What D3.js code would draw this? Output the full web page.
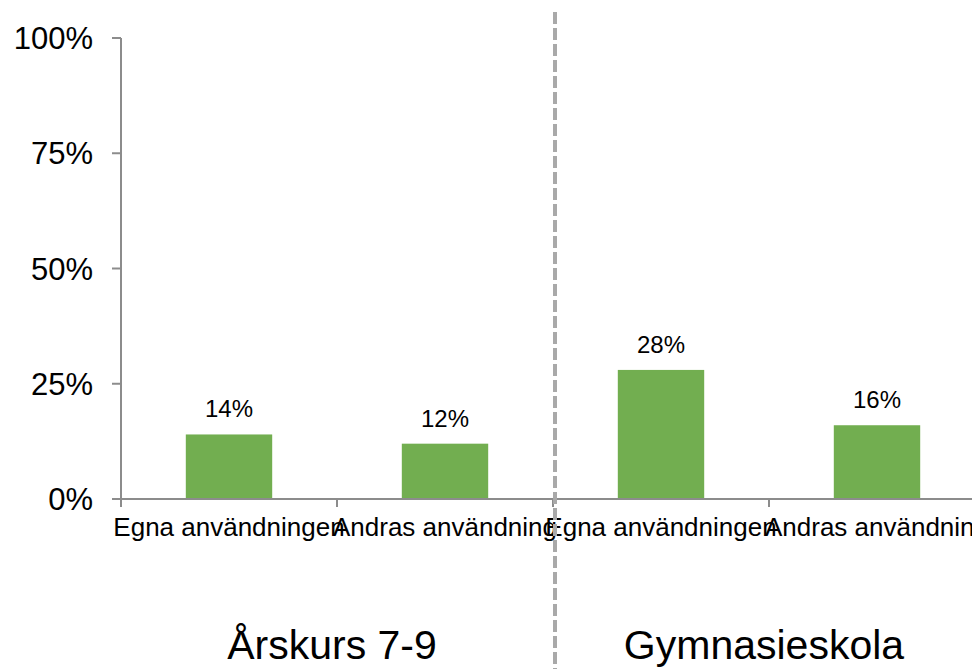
<!DOCTYPE html>
<html>
<head>
<meta charset="utf-8">
<script src="https://cdn.jsdelivr.net/npm/d3@7"></script>
<style>
  html, body { margin: 0; padding: 0; background: #fff; }
  svg { display: block; font-family: "Liberation Sans", Arial, sans-serif; }
</style>
</head>
<body>
<svg id="chart" width="972" height="669"></svg>
<script>
const categories = ["Egna användningen", "Andras användning", "Egna användningen", "Andras användning"];
const values = [14, 12, 28, 16];
const groups = ["Årskurs 7-9", "Gymnasieskola"];
const yTicks = [0, 25, 50, 75, 100];

const svg = d3.select("#chart");
const keys = categories.map((c, i) => i);

const x = d3.scaleBand().domain(keys).range([121, 985]).paddingInner(0).paddingOuter(0);
const xBar = d3.scaleBand().domain(keys).range([121, 985]).paddingInner(0.6).paddingOuter(0.3);
const y = d3.scaleLinear().domain([0, 100]).range([499, 38]);

const axisColor = "#8c8c8c";

// Y axis
svg.append("line").attr("x1", x.range()[0]).attr("x2", x.range()[0])
  .attr("y1", y(0)).attr("y2", y(100)).attr("stroke", axisColor).attr("stroke-width", 2);
svg.selectAll(".ytick").data(yTicks).join("line")
  .attr("x1", x.range()[0] - 9).attr("x2", x.range()[0])
  .attr("y1", d => y(d)).attr("y2", d => y(d))
  .attr("stroke", axisColor).attr("stroke-width", 2);
svg.selectAll(".ylab").data(yTicks).join("text")
  .attr("x", 93).attr("y", d => y(d) + 11)
  .attr("text-anchor", "end").attr("font-size", 31).attr("fill", "#000")
  .text(d => d + "%");

// Bars
svg.selectAll(".bar").data(values).join("rect")
  .attr("x", (d, i) => xBar(i)).attr("width", xBar.bandwidth())
  .attr("y", d => y(d)).attr("height", d => y(0) - y(d))
  .attr("fill", "#72ae50");

// X axis
svg.append("line").attr("x1", x.range()[0]).attr("x2", 972)
  .attr("y1", y(0)).attr("y2", y(0)).attr("stroke", axisColor).attr("stroke-width", 2);
svg.selectAll(".xtick").data(keys).join("line")
  .attr("x1", d => x(d)).attr("x2", d => x(d))
  .attr("y1", y(0)).attr("y2", y(0) + 8)
  .attr("stroke", axisColor).attr("stroke-width", 2);

// Value labels
svg.selectAll(".vlab").data(values).join("text")
  .attr("x", (d, i) => x(i) + x.bandwidth() / 2).attr("y", d => y(d) - 17)
  .attr("text-anchor", "middle").attr("font-size", 24).attr("fill", "#000")
  .text(d => d + "%");

// Category labels
svg.selectAll(".clab").data(categories).join("text")
  .attr("x", (d, i) => x(i) + x.bandwidth() / 2).attr("y", 536)
  .attr("text-anchor", "middle").attr("font-size", 26).attr("fill", "#000")
  .text(d => d);

// Separator dashed line
const sepX = x(2) + 2;
svg.append("line").attr("x1", sepX).attr("x2", sepX).attr("y1", 12).attr("y2", 669)
  .attr("stroke", "#a9a9a9").attr("stroke-width", 4).attr("stroke-dasharray", "12 4");

// Group labels
svg.selectAll(".glab").data(groups).join("text")
  .attr("x", (d, i) => x(i * 2) + x.bandwidth() - 5).attr("y", 659)
  .attr("text-anchor", "middle").attr("font-size", 41).attr("fill", "#000")
  .text(d => d);
</script>
</body>
</html>
